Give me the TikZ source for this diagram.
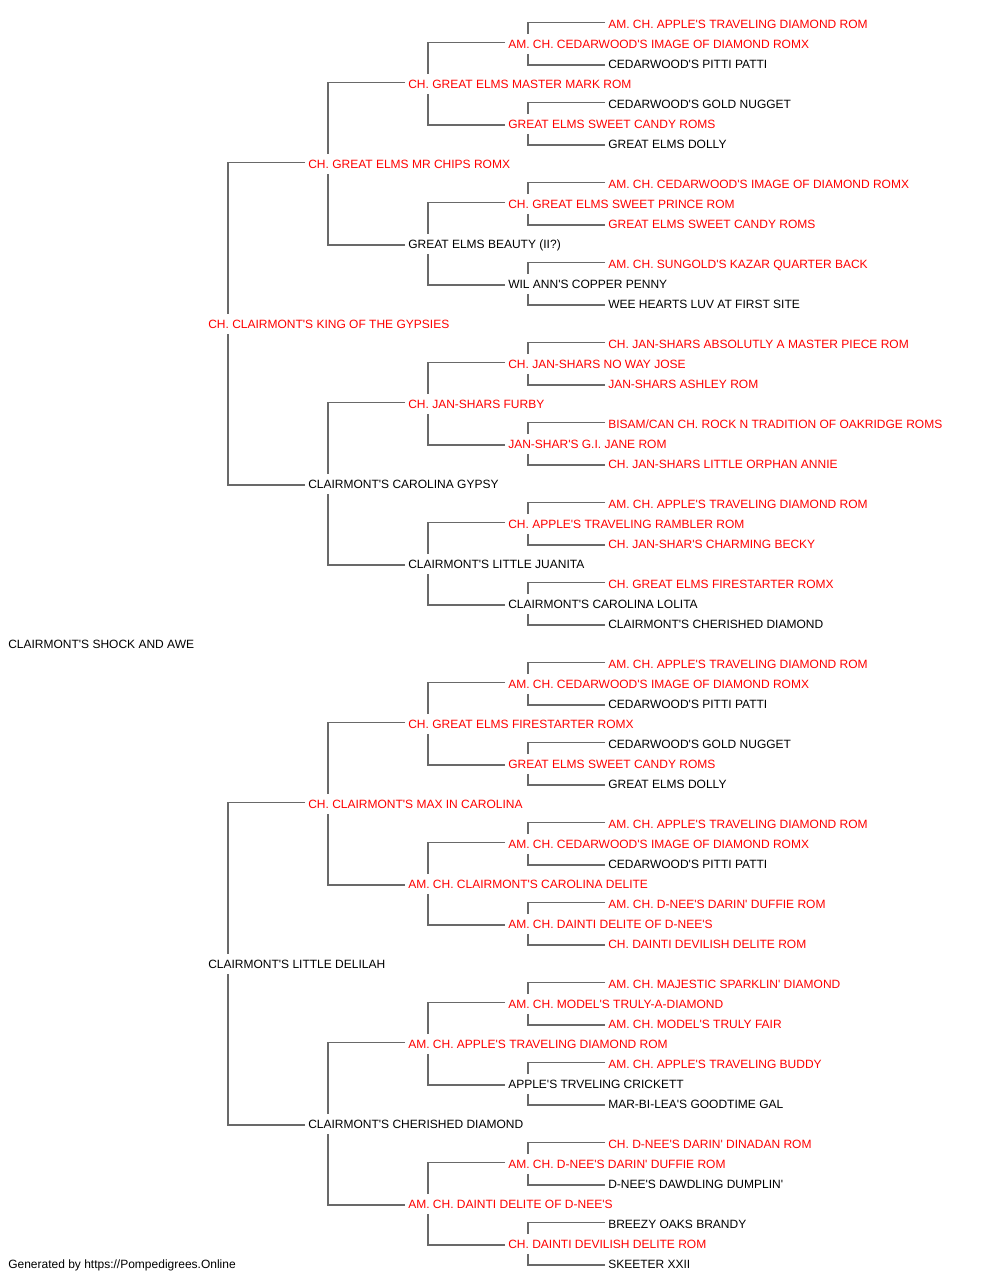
\documentclass[tikz,border=0pt]{standalone}
\usepackage{fontspec}
\setmainfont{Liberation Sans}[Ligatures=TeXOff]
\definecolor{pedred}{RGB}{255,0,0}
\definecolor{pedline}{RGB}{105,105,105}
\newcommand{\pedlink}[3]{%
  \draw[conn] ([yshift=1.1pt]#2.west) -| ([xshift=17.25pt]#1.north west);
  \draw[conn] ([yshift=-0.8pt]#3.west) -| ([xshift=17.25pt]#1.south west);}
\begin{document}
\begin{tikzpicture}[x=0.75pt,y=-0.75pt,
  nm/.style={anchor=west, inner xsep=2.25pt, inner ysep=0pt, text height=10.7pt, text depth=4.3pt, font=\fontsize{9pt}{11pt}\selectfont, yshift=-0.5pt},
  rd/.style={nm, text=pedred},
  bk/.style={nm, text=black},
  conn/.style={draw=pedline, line width=1.15pt}]
\useasboundingbox (0,0) rectangle (1000,1280);
% generation 1
\node[bk] (n) at (5,643.5) {CLAIRMONT'S SHOCK AND AWE};
% generation 2
\node[rd] (s) at (205,323.5) {CH. CLAIRMONT'S KING OF THE GYPSIES};
\node[bk] (d) at (205,963.5) {CLAIRMONT'S LITTLE DELILAH};
% generation 3
\node[rd] (ss) at (305,163.5) {CH. GREAT ELMS MR CHIPS ROMX};
\node[bk] (sd) at (305,483.5) {CLAIRMONT'S CAROLINA GYPSY};
\node[rd] (ds) at (305,803.5) {CH. CLAIRMONT'S MAX IN CAROLINA};
\node[bk] (dd) at (305,1123.5) {CLAIRMONT'S CHERISHED DIAMOND};
% generation 4
\node[rd] (sss) at (405,83.5) {CH. GREAT ELMS MASTER MARK ROM};
\node[bk] (ssd) at (405,243.5) {GREAT ELMS BEAUTY (II?)};
\node[rd] (sds) at (405,403.5) {CH. JAN-SHARS FURBY};
\node[bk] (sdd) at (405,563.5) {CLAIRMONT'S LITTLE JUANITA};
\node[rd] (dss) at (405,723.5) {CH. GREAT ELMS FIRESTARTER ROMX};
\node[rd] (dsd) at (405,883.5) {AM. CH. CLAIRMONT'S CAROLINA DELITE};
\node[rd] (dds) at (405,1043.5) {AM. CH. APPLE'S TRAVELING DIAMOND ROM};
\node[rd] (ddd) at (405,1203.5) {AM. CH. DAINTI DELITE OF D-NEE'S};
% generation 5
\node[rd] (ssss) at (505,43.5) {AM. CH. CEDARWOOD'S IMAGE OF DIAMOND ROMX};
\node[rd] (sssd) at (505,123.5) {GREAT ELMS SWEET CANDY ROMS};
\node[rd] (ssds) at (505,203.5) {CH. GREAT ELMS SWEET PRINCE ROM};
\node[bk] (ssdd) at (505,283.5) {WIL ANN'S COPPER PENNY};
\node[rd] (sdss) at (505,363.5) {CH. JAN-SHARS NO WAY JOSE};
\node[rd] (sdsd) at (505,443.5) {JAN-SHAR'S G.I. JANE ROM};
\node[rd] (sdds) at (505,523.5) {CH. APPLE'S TRAVELING RAMBLER ROM};
\node[bk] (sddd) at (505,603.5) {CLAIRMONT'S CAROLINA LOLITA};
\node[rd] (dsss) at (505,683.5) {AM. CH. CEDARWOOD'S IMAGE OF DIAMOND ROMX};
\node[rd] (dssd) at (505,763.5) {GREAT ELMS SWEET CANDY ROMS};
\node[rd] (dsds) at (505,843.5) {AM. CH. CEDARWOOD'S IMAGE OF DIAMOND ROMX};
\node[rd] (dsdd) at (505,923.5) {AM. CH. DAINTI DELITE OF D-NEE'S};
\node[rd] (ddss) at (505,1003.5) {AM. CH. MODEL'S TRULY-A-DIAMOND};
\node[bk] (ddsd) at (505,1083.5) {APPLE'S TRVELING CRICKETT};
\node[rd] (ddds) at (505,1163.5) {AM. CH. D-NEE'S DARIN' DUFFIE ROM};
\node[rd] (dddd) at (505,1243.5) {CH. DAINTI DEVILISH DELITE ROM};
% generation 6
\node[rd] (sssss) at (605,23.5) {AM. CH. APPLE'S TRAVELING DIAMOND ROM};
\node[bk] (ssssd) at (605,63.5) {CEDARWOOD'S PITTI PATTI};
\node[bk] (sssds) at (605,103.5) {CEDARWOOD'S GOLD NUGGET};
\node[bk] (sssdd) at (605,143.5) {GREAT ELMS DOLLY};
\node[rd] (ssdss) at (605,183.5) {AM. CH. CEDARWOOD'S IMAGE OF DIAMOND ROMX};
\node[rd] (ssdsd) at (605,223.5) {GREAT ELMS SWEET CANDY ROMS};
\node[rd] (ssdds) at (605,263.5) {AM. CH. SUNGOLD'S KAZAR QUARTER BACK};
\node[bk] (ssddd) at (605,303.5) {WEE HEARTS LUV AT FIRST SITE};
\node[rd] (sdsss) at (605,343.5) {CH. JAN-SHARS ABSOLUTLY A MASTER PIECE ROM};
\node[rd] (sdssd) at (605,383.5) {JAN-SHARS ASHLEY ROM};
\node[rd] (sdsds) at (605,423.5) {BISAM/CAN CH. ROCK N TRADITION OF OAKRIDGE ROMS};
\node[rd] (sdsdd) at (605,463.5) {CH. JAN-SHARS LITTLE ORPHAN ANNIE};
\node[rd] (sddss) at (605,503.5) {AM. CH. APPLE'S TRAVELING DIAMOND ROM};
\node[rd] (sddsd) at (605,543.5) {CH. JAN-SHAR'S CHARMING BECKY};
\node[rd] (sddds) at (605,583.5) {CH. GREAT ELMS FIRESTARTER ROMX};
\node[bk] (sdddd) at (605,623.5) {CLAIRMONT'S CHERISHED DIAMOND};
\node[rd] (dssss) at (605,663.5) {AM. CH. APPLE'S TRAVELING DIAMOND ROM};
\node[bk] (dsssd) at (605,703.5) {CEDARWOOD'S PITTI PATTI};
\node[bk] (dssds) at (605,743.5) {CEDARWOOD'S GOLD NUGGET};
\node[bk] (dssdd) at (605,783.5) {GREAT ELMS DOLLY};
\node[rd] (dsdss) at (605,823.5) {AM. CH. APPLE'S TRAVELING DIAMOND ROM};
\node[bk] (dsdsd) at (605,863.5) {CEDARWOOD'S PITTI PATTI};
\node[rd] (dsdds) at (605,903.5) {AM. CH. D-NEE'S DARIN' DUFFIE ROM};
\node[rd] (dsddd) at (605,943.5) {CH. DAINTI DEVILISH DELITE ROM};
\node[rd] (ddsss) at (605,983.5) {AM. CH. MAJESTIC SPARKLIN' DIAMOND};
\node[rd] (ddssd) at (605,1023.5) {AM. CH. MODEL'S TRULY FAIR};
\node[rd] (ddsds) at (605,1063.5) {AM. CH. APPLE'S TRAVELING BUDDY};
\node[bk] (ddsdd) at (605,1103.5) {MAR-BI-LEA'S GOODTIME GAL};
\node[rd] (dddss) at (605,1143.5) {CH. D-NEE'S DARIN' DINADAN ROM};
\node[bk] (dddsd) at (605,1183.5) {D-NEE'S DAWDLING DUMPLIN'};
\node[bk] (dddds) at (605,1223.5) {BREEZY OAKS BRANDY};
\node[bk] (ddddd) at (605,1263.5) {SKEETER XXII};
% footer
\node[bk] (foot) at (5,1263.5) {Generated by https://Pompedigrees.Online};
% connectors
\pedlink{s}{ss}{sd}
\pedlink{d}{ds}{dd}
\pedlink{ss}{sss}{ssd}
\pedlink{sd}{sds}{sdd}
\pedlink{ds}{dss}{dsd}
\pedlink{dd}{dds}{ddd}
\pedlink{sss}{ssss}{sssd}
\pedlink{ssd}{ssds}{ssdd}
\pedlink{sds}{sdss}{sdsd}
\pedlink{sdd}{sdds}{sddd}
\pedlink{dss}{dsss}{dssd}
\pedlink{dsd}{dsds}{dsdd}
\pedlink{dds}{ddss}{ddsd}
\pedlink{ddd}{ddds}{dddd}
\pedlink{ssss}{sssss}{ssssd}
\pedlink{sssd}{sssds}{sssdd}
\pedlink{ssds}{ssdss}{ssdsd}
\pedlink{ssdd}{ssdds}{ssddd}
\pedlink{sdss}{sdsss}{sdssd}
\pedlink{sdsd}{sdsds}{sdsdd}
\pedlink{sdds}{sddss}{sddsd}
\pedlink{sddd}{sddds}{sdddd}
\pedlink{dsss}{dssss}{dsssd}
\pedlink{dssd}{dssds}{dssdd}
\pedlink{dsds}{dsdss}{dsdsd}
\pedlink{dsdd}{dsdds}{dsddd}
\pedlink{ddss}{ddsss}{ddssd}
\pedlink{ddsd}{ddsds}{ddsdd}
\pedlink{ddds}{dddss}{dddsd}
\pedlink{dddd}{dddds}{ddddd}
\end{tikzpicture}
\end{document}
